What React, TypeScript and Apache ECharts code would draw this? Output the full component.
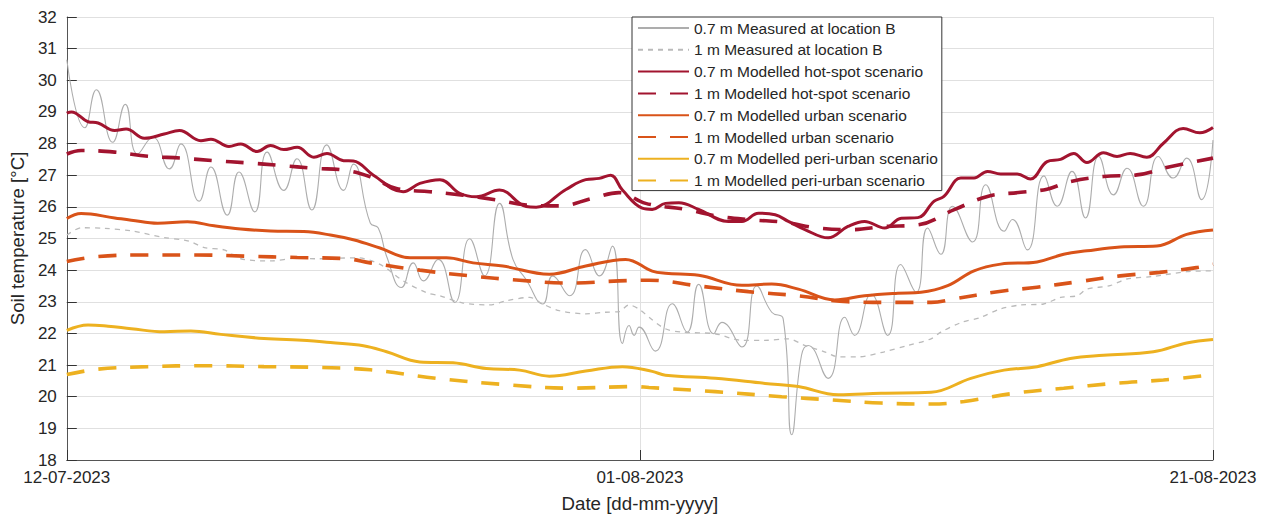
import React, { useEffect, useRef } from "react";
import * as echarts from "echarts";

// x = days since 12-07-2023, y = soil temperature [°C]
const xTickLabels = ["12-07-2023", "01-08-2023", "21-08-2023"];

const measured07: [number, number][] = [
  [0, 30.65], [0.63, 28.5], [1.03, 29.7], [1.6, 28.04], [2.04, 29.24], [2.47, 27.67],
  [3.0, 28.2], [3.58, 27.2], [3.98, 27.99], [4.62, 26.18], [5.03, 27.26], [5.6, 25.74],
  [6.01, 27.1], [6.56, 25.84], [6.99, 27.73], [7.57, 26.52], [8.03, 27.52], [8.55, 25.9],
  [9.07, 27.96], [9.66, 26.52], [10.0, 27.35], [10.59, 25.49], [10.87, 25.33], [11.16, 24.44],
  [11.68, 23.45], [12.09, 24.23], [12.44, 23.66], [12.96, 24.34], [13.54, 22.98], [14.06, 24.99],
  [14.58, 23.82], [15.1, 26.11], [15.57, 24.34], [16.02, 23.71], [16.61, 22.93], [16.96, 23.82],
  [17.55, 23.19], [18.1, 24.65], [18.59, 23.82], [19.04, 24.76], [19.39, 21.68], [19.62, 22.25],
  [19.8, 21.94], [19.97, 22.2], [20.54, 21.44], [21.13, 22.94], [21.65, 22.04], [22.05, 23.55],
  [22.57, 21.99], [22.86, 22.35], [23.56, 21.57], [24.08, 23.5], [24.6, 22.67], [25.0, 22.46],
  [25.3, 18.8], [25.64, 21.31], [25.87, 21.62], [26.57, 20.58], [27.15, 22.51], [27.49, 21.94],
  [28.07, 23.24], [28.65, 21.94], [29.1, 24.18], [29.64, 23.3], [30.04, 25.33], [30.5, 24.5],
  [30.91, 26.02], [31.61, 24.89], [32.07, 26.7], [32.71, 25.23], [33.0, 25.6], [33.52, 24.64],
  [34.1, 26.98], [34.56, 26.02], [35.08, 27.12], [35.55, 25.65], [36.01, 27.59], [36.53, 26.38],
  [37.0, 27.22], [37.57, 26.02], [38.09, 27.59], [38.61, 26.91], [39.08, 27.54], [39.6, 26.23],
  [40, 28.11],
];

const measured1: [number, number][] = [
  [0, 25.11], [0.51, 25.34], [1.32, 25.32], [2.25, 25.24], [3.4, 25.03], [4.1, 24.95],
  [4.38, 24.88], [4.8, 24.71], [5.49, 24.64], [6.07, 24.36], [7.11, 24.29], [8.03, 24.38],
  [8.73, 24.36], [10.12, 24.39], [10.93, 24.18], [11.74, 23.66], [12.55, 23.29], [13.02, 23.19],
  [13.83, 22.96], [14.76, 22.9], [15.33, 23.03], [16.15, 23.14], [16.61, 22.93], [17.19, 22.72],
  [18.11, 22.62], [18.8, 22.67], [19.27, 22.69], [19.62, 22.9], [19.97, 22.77], [20.32, 22.51],
  [20.88, 22.15], [21.47, 22.04], [22.62, 21.99], [23.56, 21.78], [24.36, 21.78], [25.18, 21.83],
  [25.75, 21.62], [26.44, 21.42], [26.92, 21.26], [27.61, 21.26], [28.53, 21.42], [29.35, 21.62],
  [30.16, 21.83], [30.5, 22.04], [31.2, 22.34], [31.9, 22.51], [32.59, 22.78], [33.29, 22.9],
  [34.09, 22.93], [34.68, 23.14], [35.26, 23.19], [35.6, 23.4], [36.41, 23.51], [36.99, 23.72],
  [37.92, 23.8], [39.08, 23.95], [40, 23.98],
];

const hotspot07: [number, number][] = [
  [0, 28.96], [0.16, 29.0], [0.74, 28.69], [1.09, 28.65], [1.67, 28.41], [2.07, 28.46],
  [2.71, 28.17], [3.4, 28.3], [3.93, 28.41], [4.68, 28.09], [5.03, 28.14], [5.66, 27.91],
  [6.07, 27.99], [6.64, 27.75], [7.11, 27.94], [7.57, 27.81], [8.04, 27.88], [8.62, 27.57],
  [9.08, 27.69], [9.66, 27.46], [10.0, 27.45], [10.7, 27.0], [11.74, 26.48], [12.32, 26.74],
  [13.02, 26.86], [13.71, 26.43], [14.29, 26.32], [15.1, 26.53], [16.03, 26.01], [16.38, 25.99],
  [17.42, 26.55], [18.11, 26.86], [18.58, 26.9], [18.98, 27.0], [19.39, 26.53], [20.08, 25.96],
  [20.43, 25.92], [20.89, 26.11], [21.36, 26.13], [22.05, 25.92], [23.09, 25.54], [23.56, 25.54],
  [24.14, 25.8], [24.72, 25.75], [25.18, 25.54], [25.76, 25.28], [26.57, 25.02], [27.26, 25.38],
  [27.84, 25.54], [28.54, 25.33], [29.12, 25.64], [29.7, 25.66], [30.27, 26.18], [30.61, 26.33],
  [31.2, 26.91], [31.66, 26.91], [32.13, 27.12], [32.59, 27.04], [33.17, 27.04], [33.63, 26.88],
  [34.21, 27.43], [34.68, 27.5], [35.14, 27.69], [35.6, 27.4], [36.18, 27.71], [36.65, 27.59],
  [37.11, 27.69], [37.69, 27.57], [38.27, 28.01], [38.96, 28.48], [39.54, 28.34], [40, 28.51],
];

const hotspot1: [number, number][] = [
  [0, 27.67], [0.5, 27.78], [1.67, 27.73], [2.83, 27.6], [3.98, 27.54], [5.14, 27.46],
  [6.3, 27.39], [7.46, 27.31], [8.62, 27.22], [9.77, 27.15], [10.59, 26.95], [11.5, 26.58],
  [12.67, 26.48], [13.83, 26.37], [14.99, 26.22], [16.03, 26.06], [17.19, 26.03], [18.35, 26.27],
  [19.27, 26.45], [20.2, 26.11], [21.59, 25.92], [22.75, 25.7], [23.9, 25.59], [25.06, 25.51],
  [26.22, 25.33], [27.38, 25.28], [28.54, 25.38], [29.7, 25.43], [30.97, 25.91], [32.13, 26.33],
  [33.29, 26.46], [34.21, 26.56], [35.02, 26.8], [36.18, 26.96], [37.34, 27.01], [38.5, 27.27],
  [40, 27.54],
];

const urban07: [number, number][] = [
  [0, 25.63], [0.5, 25.79], [1.67, 25.65], [2.25, 25.58], [3.17, 25.48], [4.21, 25.53],
  [5.14, 25.4], [6.07, 25.3], [7.11, 25.24], [8.27, 25.22], [9.2, 25.11], [10.0, 24.96],
  [10.93, 24.7], [11.98, 24.39], [13.25, 24.39], [14.18, 24.23], [15.22, 24.13], [16.84, 23.87],
  [18.11, 24.13], [19.5, 24.34], [20.43, 23.97], [20.89, 23.9], [22.05, 23.84], [23.56, 23.52],
  [24.6, 23.56], [25.53, 23.4], [26.8, 23.06], [27.84, 23.19], [29.0, 23.27], [29.81, 23.3],
  [30.74, 23.51], [31.66, 23.98], [32.59, 24.19], [33.86, 24.26], [34.79, 24.5], [35.6, 24.61],
  [36.76, 24.73], [38.04, 24.76], [39.08, 25.13], [40, 25.27],
];

const urban1: [number, number][] = [
  [0, 24.27], [1.09, 24.43], [2.83, 24.48], [4.56, 24.48], [6.3, 24.44], [8.04, 24.4],
  [9.77, 24.36], [10.59, 24.23], [12.32, 24.0], [14.06, 23.82], [15.8, 23.68], [17.54, 23.59],
  [19.27, 23.66], [20.32, 23.68], [22.05, 23.5], [23.79, 23.32], [25.53, 23.19], [27.26, 23.0],
  [29.0, 22.98], [30.16, 22.98], [30.97, 23.09], [32.48, 23.32], [33.86, 23.46], [35.26, 23.63],
  [36.76, 23.82], [38.14, 23.93], [39.42, 24.08], [40, 24.19],
];

const periUrban07: [number, number][] = [
  [0, 22.1], [0.74, 22.27], [1.44, 22.23], [2.25, 22.15], [3.4, 22.05], [4.33, 22.08],
  [5.38, 21.97], [6.88, 21.84], [8.38, 21.78], [9.2, 21.71], [10.35, 21.61], [11.16, 21.42],
  [12.32, 21.1], [13.48, 21.07], [14.64, 20.89], [15.8, 20.84], [16.84, 20.65], [18.11, 20.81],
  [19.39, 20.95], [20.43, 20.8], [20.89, 20.68], [22.63, 20.58], [24.37, 20.42], [25.53, 20.32],
  [26.92, 20.06], [28.42, 20.11], [30.16, 20.14], [31.55, 20.58], [32.71, 20.84], [33.86, 20.95],
  [35.02, 21.21], [36.18, 21.31], [37.92, 21.42], [39.08, 21.7], [40, 21.81],
];

const periUrban1: [number, number][] = [
  [0, 20.7], [1.09, 20.87], [2.83, 20.95], [4.8, 20.98], [6.88, 20.95], [8.62, 20.93],
  [10.59, 20.85], [12.9, 20.58], [15.22, 20.39], [17.54, 20.27], [19.85, 20.32], [20.32, 20.29],
  [22.63, 20.16], [24.95, 20.0], [26.68, 19.9], [28.42, 19.8], [30.16, 19.77], [31.32, 19.85],
  [33.06, 20.11], [34.79, 20.27], [36.53, 20.42], [38.27, 20.53], [39.66, 20.66],
];

const seriesNames = [
  "0.7 m Measured at location B",
  "1 m Measured at location B",
  "0.7 m Modelled hot-spot scenario",
  "1 m Modelled hot-spot scenario",
  "0.7 m Modelled urban scenario",
  "1 m Modelled urban scenario",
  "0.7 m Modelled peri-urban scenario",
  "1 m Modelled peri-urban scenario",
];

const FONT = "'Liberation Sans', Arial, Helvetica, sans-serif";
const TEXT = "#262626";

export default function App() {
  const ref = useRef<HTMLDivElement>(null);

  useEffect(() => {
    document.body.style.margin = "0";
    if (!ref.current) return;
    const chart = echarts.init(ref.current, undefined, { renderer: "svg" });

    const datasets = [measured07, measured1, hotspot07, hotspot1, urban07, urban1, periUrban07, periUrban1];
    const styles = [
      { color: "#adadad", width: 1.1, type: "solid" as any, smooth: 0.5 },
      { color: "#bababa", width: 1.3, type: [5, 5] as any, smooth: 0.3 },
      { color: "#A2142F", width: 3, type: "solid" as any, smooth: 0.4 },
      { color: "#A2142F", width: 3.6, type: [18, 14] as any, smooth: 0.4 },
      { color: "#D95319", width: 3, type: "solid" as any, smooth: 0.4 },
      { color: "#D95319", width: 3.6, type: [18, 14] as any, smooth: 0.4 },
      { color: "#EDB120", width: 3, type: "solid" as any, smooth: 0.4 },
      { color: "#EDB120", width: 3.6, type: [18, 14] as any, smooth: 0.4 },
    ];

    chart.setOption({
      animation: false,
      backgroundColor: "#ffffff",
      textStyle: { fontFamily: FONT },
      grid: { left: 62, right: 53, top: 17, bottom: 55, containLabel: false },
      legend: {
        orient: "vertical",
        left: 632,
        top: 17,
        backgroundColor: "#ffffff",
        borderColor: "#333333",
        borderWidth: 1,
        padding: [3, 4, 2, 5],
        itemWidth: 51,
        itemHeight: 14,
        itemGap: 5.8,
        itemStyle: { opacity: 0 },
        textStyle: { fontSize: 15.5, color: TEXT, fontFamily: FONT },
        data: seriesNames,
      },
      xAxis: {
        type: "value",
        min: 0,
        max: 40,
        interval: 20,
        name: "Date [dd-mm-yyyy]",
        nameLocation: "middle",
        nameGap: 34,
        nameTextStyle: { fontSize: 18.7, color: TEXT, fontFamily: FONT },
        axisLine: { onZero: false, lineStyle: { color: "#555555", width: 1 } },
        axisTick: { inside: true, length: 10, lineStyle: { color: "#333333" } },
        axisLabel: {
          margin: 9,
          fontSize: 17,
          color: TEXT,
          fontFamily: FONT,
          formatter: (v: number) => xTickLabels[Math.round(v / 20)] ?? "",
        },
        splitLine: { show: true, lineStyle: { color: "#e0e0e0", width: 1 } },
      },
      yAxis: {
        type: "value",
        min: 18,
        max: 32,
        interval: 1,
        name: "Soil temperature [°C]",
        nameLocation: "middle",
        nameGap: 36,
        nameTextStyle: { fontSize: 18.7, color: TEXT, fontFamily: FONT },
        axisLine: { show: true, lineStyle: { color: "#555555", width: 1 } },
        axisTick: { show: true, inside: true, length: 10, lineStyle: { color: "#333333" } },
        axisLabel: { margin: 10, fontSize: 17, color: TEXT, fontFamily: FONT },
        splitLine: { show: true, lineStyle: { color: "#e0e0e0", width: 1 } },
      },
      series: datasets.map((d, i) => ({
        name: seriesNames[i],
        type: "line",
        data: d,
        symbol: "none",
        showSymbol: false,
        smooth: styles[i].smooth,
        color: styles[i].color,
        lineStyle: { color: styles[i].color, width: styles[i].width, type: styles[i].type },
        z: 2 + i,
      })),
    });

    return () => chart.dispose();
  }, []);

  return <div ref={ref} style={{ width: 1266, height: 518 }} />;
}
